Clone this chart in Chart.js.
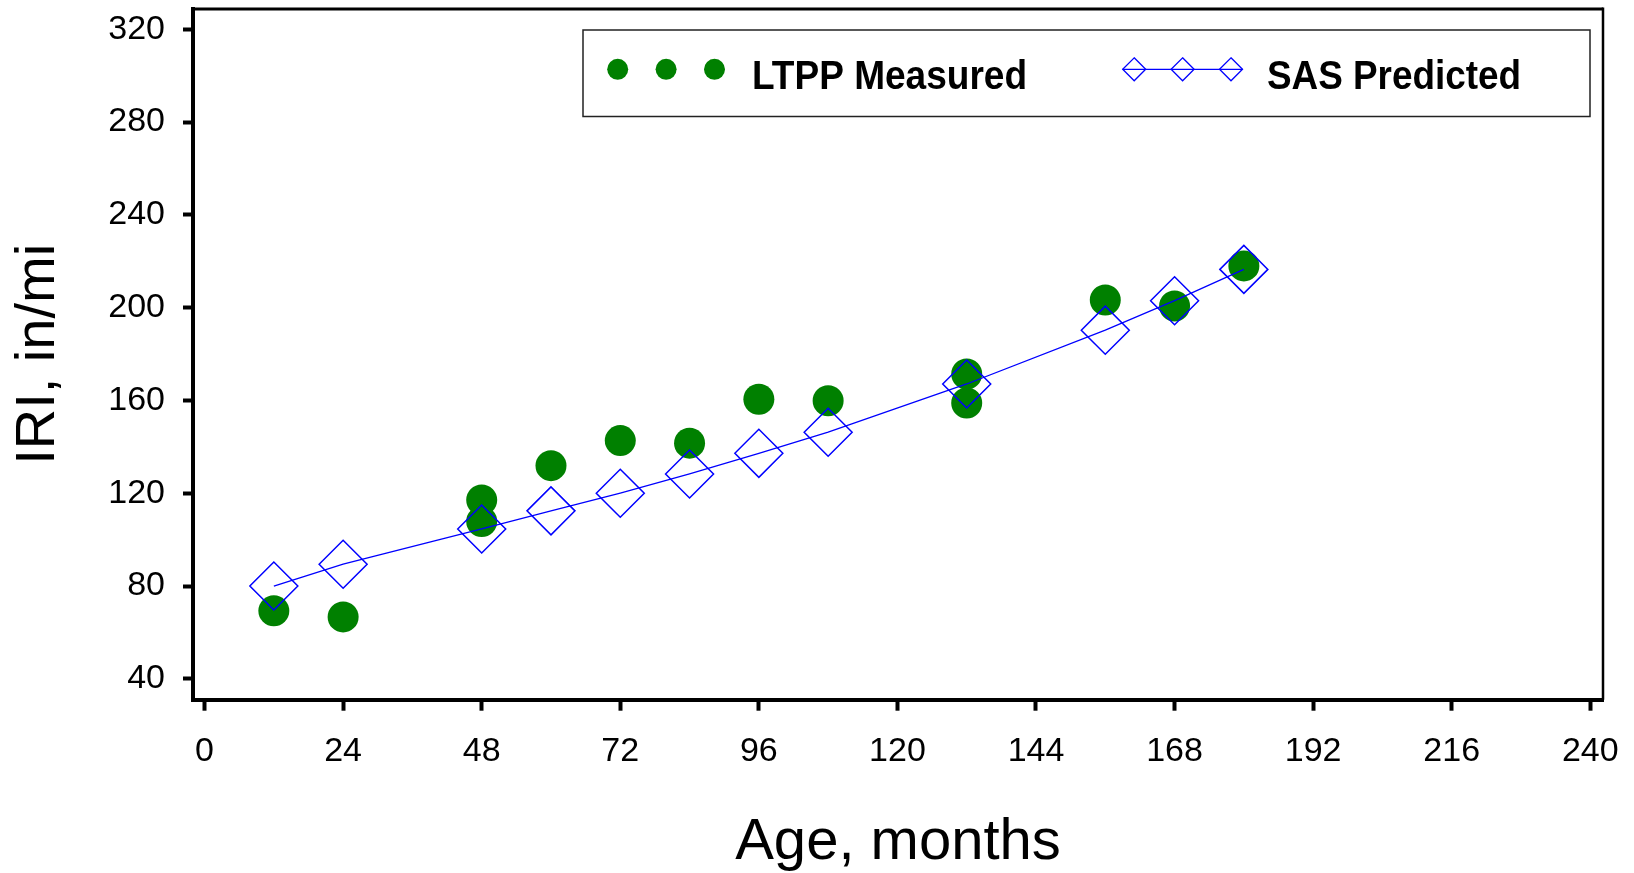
<!DOCTYPE html>
<html>
<head>
<meta charset="utf-8">
<title>IRI vs Age</title>
<script src="https://cdn.jsdelivr.net/npm/chart.js@4.4.1/dist/chart.umd.min.js"></script>
<style>
  html, body { margin: 0; padding: 0; background: #fff; }
  #chartBox { width: 1634px; height: 873px; }
</style>
</head>
<body>
<div id="chartBox"><canvas id="iriChart" width="1634" height="873"></canvas></div>
<script>
const ageMonths = [12, 24, 48, 60, 72, 84, 96, 108, 132, 156, 168, 180];
const predictedIRI = [80, 89.4, 104.6, 112.4, 120, 128.3, 137.2, 146.3, 167.1, 190.3, 203, 216.5];

const measuredAge = [12, 24, 48, 48, 60, 72, 84, 96, 108, 132, 132, 156, 168, 180];
const measuredIRI = [69.3, 66.7, 117.1, 107.8, 131.9, 142.7, 141.6, 160.5, 159.9, 171.4, 158.9, 203.3, 200.7, 218];

const xTicks = [0, 24, 48, 72, 96, 120, 144, 168, 192, 216, 240];
const yTicks = [40, 80, 120, 160, 200, 240, 280, 320];

const seriesNames = ['LTPP Measured', 'SAS Predicted'];

const FONT = "'Liberation Sans', Arial, sans-serif";
const GREEN = '#008000';
const BLUE = '#0000ff';

function diamond(c, x, y, r) {
    c.beginPath();
    c.moveTo(x, y - r);
    c.lineTo(x + r, y);
    c.lineTo(x, y + r);
    c.lineTo(x - r, y);
    c.closePath();
    c.stroke();
}

// frame on top/right and the boxed legend with three markers per entry
const framePlugin = {
    id: 'frameAndLegend',
    afterDraw(chart) {
        const ctx = chart.ctx;
        const area = chart.chartArea;
        ctx.save();
        ctx.strokeStyle = '#000';
        ctx.lineWidth = 3;
        ctx.beginPath();
        ctx.moveTo(area.left, area.top);
        ctx.lineTo(area.right, area.top);
        ctx.stroke();
        ctx.lineWidth = 2.5;
        ctx.beginPath();
        ctx.moveTo(area.right, area.top - 1.5);
        ctx.lineTo(area.right, area.bottom);
        ctx.stroke();

        // legend box
        ctx.lineWidth = 1.5;
        ctx.strokeStyle = '#222';
        ctx.strokeRect(583, 30, 1007, 86.5);

        const ly = 69.3;
        ctx.fillStyle = GREEN;
        [617.7, 666.1, 714.5].forEach(x => {
            ctx.beginPath();
            ctx.arc(x, ly, 10.5, 0, Math.PI * 2);
            ctx.fill();
        });

        ctx.strokeStyle = BLUE;
        ctx.lineWidth = 1.3;
        ctx.beginPath();
        ctx.moveTo(1122.4, ly);
        ctx.lineTo(1242.7, ly);
        ctx.stroke();
        [1134.2, 1182.6, 1231].forEach(x => diamond(ctx, x, ly, 11.5));

        ctx.fillStyle = '#000';
        ctx.font = 'bold 41px ' + FONT;
        ctx.textBaseline = 'alphabetic';
        ctx.textAlign = 'left';
        ctx.fillText(seriesNames[0], 752, 89.3, 275);
        ctx.fillText(seriesNames[1], 1267, 89.3, 254);
        ctx.restore();
    }
};

const ctx = document.getElementById('iriChart').getContext('2d');

const iriChart = new Chart(ctx, {
    type: 'scatter',
    data: {
        datasets: [{
            label: seriesNames[1],
            data: ageMonths.map((x, i) => ({ x: x, y: predictedIRI[i] })),
            showLine: true,
            borderColor: BLUE,
            borderWidth: 1.3,
            pointStyle: 'rectRot',
            pointRadius: 24,
            pointBorderWidth: 1.5,
            pointBorderColor: BLUE,
            pointBackgroundColor: 'rgba(0,0,0,0)',
            order: 0
        }, {
            label: seriesNames[0],
            data: measuredAge.map((x, i) => ({ x: x, y: measuredIRI[i] })),
            showLine: false,
            pointStyle: 'circle',
            pointRadius: 15.5,
            pointBorderWidth: 0,
            pointBackgroundColor: GREEN,
            pointBorderColor: GREEN,
            order: 1
        }]
    },
    options: {
        responsive: false,
        animation: false,
        events: [],
        layout: { autoPadding: false, padding: { left: 0, top: 9, right: 31, bottom: 0 } },
        plugins: {
            legend: { display: false },
            tooltip: { enabled: false }
        },
        scales: {
            x: {
                type: 'linear',
                min: -2,
                max: 242.2,
                afterBuildTicks: scale => { scale.ticks = xTicks.map(v => ({ value: v })); },
                afterFit: scale => {
                    scale.height = 173.3;
                    scale.paddingLeft = 0;
                    scale.paddingRight = 0;
                },
                grid: { drawOnChartArea: false, tickLength: 11, tickWidth: 4, tickColor: '#000' },
                border: { display: true, color: '#000', width: 4 },
                ticks: {
                    color: '#000',
                    font: { family: FONT, size: 34 },
                    padding: 21,
                    maxRotation: 0,
                    autoSkip: false
                },
                title: {
                    display: true,
                    text: 'Age, months',
                    color: '#000',
                    font: { family: FONT, size: 58, lineHeight: 1 },
                    padding: { top: 0, bottom: 1.5 }
                }
            },
            y: {
                type: 'linear',
                min: 31,
                max: 328.75,
                afterBuildTicks: scale => { scale.ticks = yTicks.map(v => ({ value: v })); },
                afterFit: scale => {
                    scale.width = 193;
                    scale.paddingTop = 0;
                    scale.paddingBottom = 0;
                },
                grid: { drawOnChartArea: false, tickLength: 10, tickWidth: 4, tickColor: '#000' },
                border: { display: true, color: '#000', width: 4 },
                ticks: {
                    color: '#000',
                    font: { family: FONT, size: 34 },
                    padding: 18,
                    autoSkip: false
                },
                title: {
                    display: true,
                    text: 'IRI, in/mi',
                    color: '#000',
                    font: { family: FONT, size: 56, lineHeight: 1 },
                    padding: { top: 11, bottom: 0 }
                }
            }
        }
    },
    plugins: [framePlugin]
});
</script>
</body>
</html>
